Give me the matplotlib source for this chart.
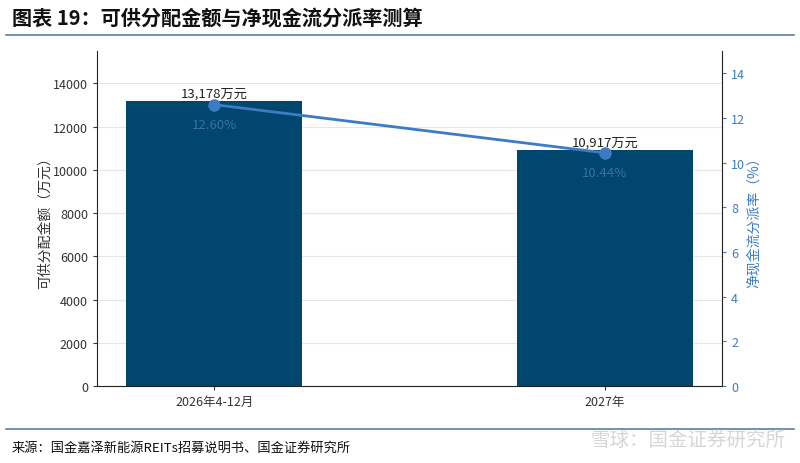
import matplotlib
matplotlib.use("Agg")
import matplotlib.pyplot as plt
from matplotlib.lines import Line2D

plt.rcParams['font.family'] = ['Noto Sans CJK SC', 'DejaVu Sans']

categories = ["2026年4-12月", "2027年"]
amounts = [13178, 10917]          # 万元
rates = [12.60, 10.44]            # %
left_ticks = [0, 2000, 4000, 6000, 8000, 10000, 12000, 14000]
right_ticks = [0, 2, 4, 6, 8, 10, 12, 14]

bar_color = "#00466e"
line_color = "#3d7cc4"
text_color = "#333333"

fig = plt.figure(figsize=(8, 4.64), dpi=100)
ax = fig.add_axes([97/800, 1-387/464, (722-97)/800, (387-52)/464])
x = list(range(len(categories)))
ax.bar(x, amounts, width=0.45, color=bar_color, zorder=2)
ax.set_xlim(-0.3, 1.3)
ax.set_ylim(0, 15500)
ax.set_yticks(left_ticks)
ax.set_xticks(x)
ax.set_xticklabels(categories)
ax.grid(axis='y', color="#e6e6e6", linewidth=0.8, zorder=0)
ax.set_axisbelow(True)
for s in ['top', 'right']:
    ax.spines[s].set_visible(False)
ax.spines['left'].set_color('#222222')
ax.spines['bottom'].set_color('#222222')
ax.tick_params(axis='both', labelsize=9, colors=text_color, length=3)
ax.set_ylabel("可供分配金额（万元）", fontsize=10, color=text_color, labelpad=1)
for xi, v in zip(x, amounts):
    ax.text(xi, v + 60, f"{v:,}万元", ha='center', va='bottom', fontsize=9.5, color="#222222")

ax2 = ax.twinx()
ax2.plot(x, rates, color=line_color, linewidth=2, marker='o', markersize=8, zorder=3)
ax2.set_ylim(0, 15)
ax2.set_yticks(right_ticks)
for s in ['top', 'left', 'bottom']:
    ax2.spines[s].set_visible(False)
ax2.spines['right'].set_color('#222222')
ax2.tick_params(axis='y', labelsize=9, colors=line_color, length=3)
ax2.set_ylabel("净现金流分派率（%）", fontsize=10, color=line_color, labelpad=1)
for xi, r in zip(x, rates):
    ax2.text(xi, r - 0.6, f"{r:.2f}%", ha='center', va='top', fontsize=9.5, color="#3a6fa6")

# title and source
fig.text(12/800, 1-18/464, "图表 19：可供分配金额与净现金流分派率测算", fontsize=14.5,
         fontweight='bold', color="#111111", va='center', ha='left')
fig.add_artist(Line2D([6/800, 794/800], [1-36/464, 1-36/464], color="#5a7fa5", linewidth=1.2))
fig.add_artist(Line2D([6/800, 794/800], [1-430/464, 1-430/464], color="#5a7fa5", linewidth=1.2))
fig.text(12/800, 1-448/464, "来源：国金嘉泽新能源REITs招募说明书、国金证券研究所", fontsize=9.5,
         color="#111111", va='center', ha='left')
fig.text(785/800, 1-440/464, "雪球：国金证券研究所", fontsize=14, color="#d6d6d6",
         va='center', ha='right')

fig.savefig("out.png", dpi=100)
